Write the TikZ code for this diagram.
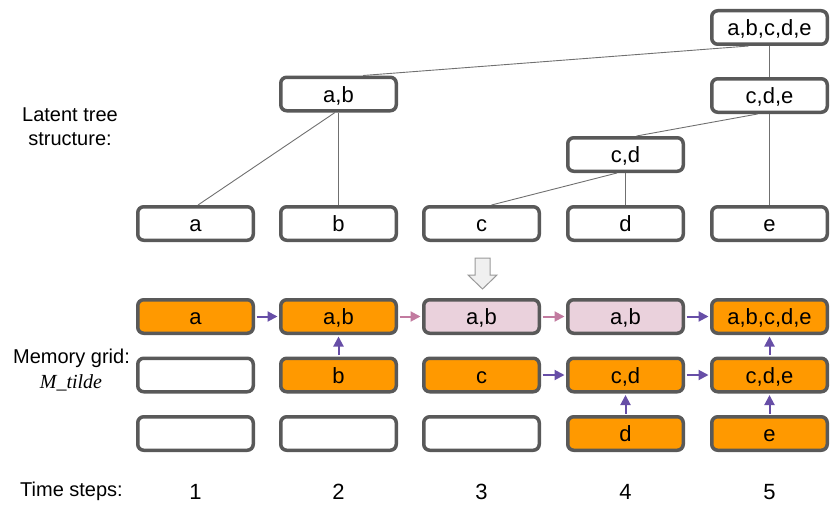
\documentclass[tikz,border=0pt]{standalone}
\usepackage{fontspec}
\setmainfont{Liberation Sans}
\newfontfamily\serifit{Liberation Serif}
\usetikzlibrary{arrows.meta,calc}
\definecolor{boxline}{HTML}{595959}
\definecolor{orangefill}{HTML}{FF9900}
\definecolor{pinkfill}{HTML}{EAD1DC}
\definecolor{purplearrow}{HTML}{674EA7}
\definecolor{pinkarrow}{HTML}{C27BA0}
\definecolor{treegray}{HTML}{707070}
\tikzset{
  cell/.style={draw=boxline, line width=3.5pt, rounded corners=6pt,
    minimum width=115.5pt, minimum height=33.5pt, inner sep=0pt,
    text height=16pt, text depth=0pt,
    font=\fontsize{22}{24}\selectfont, fill=white},
  orangecell/.style={cell, fill=orangefill},
  pinkcell/.style={cell, fill=pinkfill},
  treeline/.style={draw=treegray, line width=0.9pt},
  purplearr/.style={draw=purplearrow, line width=2pt, -{Triangle[length=10pt,width=10pt]},
    shorten >=1.5pt, shorten <=1.5pt},
  pinkarr/.style={draw=pinkarrow, line width=2pt, -{Triangle[length=10pt,width=10pt]},
    shorten >=1.5pt, shorten <=1.5pt},
  lbl/.style={font=\fontsize{20}{24}\selectfont, align=center, inner sep=0pt},
  num/.style={font=\fontsize{22}{24}\selectfont, inner sep=0pt}
}
\begin{document}
\begin{tikzpicture}[x=1pt,y=-1pt]
\useasboundingbox (0,0) rectangle (837,511);
% tree
\node[cell] (abcde) at (769.5,27.5) {a,b,c,d,e};
\node[cell] (ab) at (338.5,94) {a,b};
\node[cell] (cde) at (769.5,95.5) {c,d,e};
\node[cell] (cd) at (625.5,154.5) {c,d};
\node[cell] (la) at (195.5,223.5) {a};
\node[cell] (lb) at (338.5,223.5) {b};
\node[cell] (lc) at (481.5,223.5) {c};
\node[cell] (ld) at (625.5,223.5) {d};
\node[cell] (le) at (769.5,223.5) {e};
\draw[treeline] ([xshift=24.5pt]ab.north) -- ([xshift=-21pt]abcde.south);
\draw[treeline] ([xshift=-3.5pt]ab.south) -- ([xshift=2.5pt]la.north);
\draw[treeline] (ab.south) -- (lb.north);
\draw[treeline] (abcde.south) -- (cde.north);
\draw[treeline] ([xshift=-12pt]cde.south) -- ([xshift=11pt]cd.north);
\draw[treeline] (cde.south) -- (le.north);
\draw[treeline] ([xshift=-8.5pt]cd.south) -- ([xshift=10pt]lc.north);
\draw[treeline] (cd.south) -- (ld.north);
\node[lbl] (treelbl) at (70,127) {Latent tree\\structure:};
% down arrow
\draw[draw=gray!80, fill=gray!12, line width=1pt, line join=miter]
  (475,258) -- (490,258) -- (490,275) -- (497,275) -- (482.5,289) -- (468,275) -- (475,275) -- cycle;
% memory grid
\node[orangecell] (m11) at (195.5,316.5) {a};
\node[cell] (m21) at (195.5,375) {};
\node[cell] (m31) at (195.5,433.5) {};
\node[orangecell] (m12) at (338.5,316.5) {a,b};
\node[orangecell] (m22) at (338.5,375) {b};
\node[cell] (m32) at (338.5,433.5) {};
\node[pinkcell] (m13) at (481.5,316.5) {a,b};
\node[orangecell] (m23) at (481.5,375) {c};
\node[cell] (m33) at (481.5,433.5) {};
\node[pinkcell] (m14) at (625.5,316.5) {a,b};
\node[orangecell] (m24) at (625.5,375) {c,d};
\node[orangecell] (m34) at (625.5,433.5) {d};
\node[orangecell] (m15) at (769.5,316.5) {a,b,c,d,e};
\node[orangecell] (m25) at (769.5,375) {c,d,e};
\node[orangecell] (m35) at (769.5,433.5) {e};
\draw[purplearr] (m11) -- (m12);
\draw[pinkarr] (m12) -- (m13);
\draw[pinkarr] (m13) -- (m14);
\draw[purplearr] (m14) -- (m15);
\draw[purplearr] (m22) -- (m12);
\draw[purplearr] (m23) -- (m24);
\draw[purplearr] (m24) -- (m25);
\draw[purplearr] (m34) -- (m24);
\draw[purplearr] (m35) -- (m25);
\draw[purplearr] (m25) -- (m15);
\node[lbl] (memlbl) at (71.5,358) {Memory grid:};
\node[lbl, font=\serifit\itshape\fontsize{20}{24}\selectfont] (mtilde) at (71,383) {M\_tilde};
% time steps
\node[lbl] (tslbl) at (71.5,491) {Time steps:};
\node[num] (t1) at (195.5,492) {1};
\node[num] (t2) at (338.5,492) {2};
\node[num] (t3) at (481.5,492) {3};
\node[num] (t4) at (625.5,492) {4};
\node[num] (t5) at (769.5,492) {5};
\end{tikzpicture}
\end{document}
